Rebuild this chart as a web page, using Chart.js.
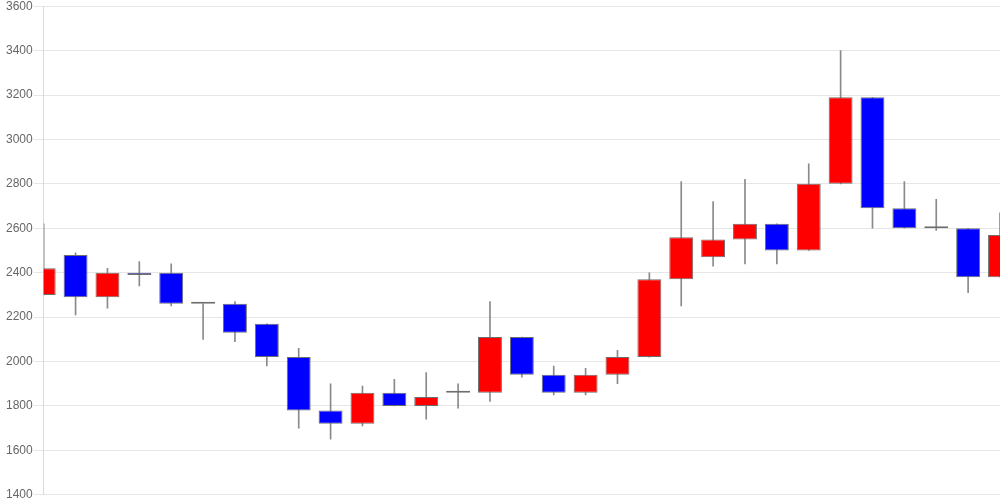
<!DOCTYPE html>
<html>
<head>
<meta charset="utf-8">
<script src="https://cdn.jsdelivr.net/npm/chart.js@4/dist/chart.umd.min.js"></script>
<style>
    html, body { margin: 0; padding: 0; background: #fff; overflow: hidden; }
    #wrap { position: absolute; left: 0; top: -2px; width: 1000px; height: 505px; }
</style>
</head>
<body>
<div id="wrap"><canvas id="candles"></canvas></div>
<script>
// ─── PRICE DATA ──────────────────────────────────────────────
const days   = Array.from({ length: 31 }, (_, i) => 'D' + (i + 1));
const opens  = [2300, 2480, 2290, 2400, 2400, 2260, 2260, 2170, 2020, 1780, 1720, 1860, 1800, 1860, 1860, 2110,
                1940, 1860, 1940, 2020, 2370, 2470, 2550, 2620, 2500, 2800, 3190, 2690, 2600, 2600, 2380];
const closes = [2420, 2290, 2400, 2390, 2260, 2260, 2130, 2020, 1780, 1720, 1860, 1800, 1840, 1860, 2110, 1940,
                1860, 1940, 2020, 2370, 2560, 2550, 2620, 2500, 2800, 3190, 2690, 2600, 2600, 2380, 2570];
const highs  = [2620, 2490, 2420, 2450, 2440, 2260, 2270, 2170, 2060, 1900, 1890, 1920, 1950, 1900, 2270, 2110,
                1980, 1970, 2050, 2400, 2810, 2720, 2820, 2620, 2890, 3400, 3190, 2810, 2730, 2600, 2670];
const lows   = [2300, 2210, 2240, 2340, 2250, 2100, 2090, 1980, 1700, 1650, 1710, 1800, 1740, 1790, 1820, 1930,
                1850, 1850, 1900, 2020, 2250, 2430, 2440, 2440, 2500, 2800, 2600, 2600, 2590, 2310, 2380];
const yTicks = [1400, 1600, 1800, 2000, 2200, 2400, 2600, 2800, 3000, 3200, 3400, 3600];

// ─── COLOURS ─────────────────────────────────────────────────
const UP = '#ff0000', DOWN = '#0000ff', FLAT = '#777777';
const bodyColor = ctx => {
    const i = ctx.dataIndex;
    return closes[i] > opens[i] ? UP : closes[i] < opens[i] ? DOWN : FLAT;
};

// ─── CHART ───────────────────────────────────────────────────
new Chart(document.getElementById('candles'), {
    type: 'bar',
    data: {
        labels: days,
        datasets: [
            {
                label: 'body',
                data: opens.map((o, i) => [o, closes[i]]),
                backgroundColor: bodyColor,
                borderColor: '#6e6e6e',
                borderWidth: 1,
                borderSkipped: false,
                grouped: false,
                categoryPercentage: 1,
                barPercentage: 0.75,
                minBarLength: 2
            },
            {
                label: 'wick',
                data: lows.map((l, i) => [l, highs[i]]),
                backgroundColor: '#8a8a8a',
                borderWidth: 0,
                grouped: false,
                barThickness: 1
            }
        ]
    },
    options: {
        responsive: true,
        maintainAspectRatio: false,
        animation: false,
        layout: { padding: { left: 5, right: 0, top: 0, bottom: 0 } },
        plugins: { legend: { display: false }, tooltip: { enabled: false } },
        scales: {
            x: {
                offset: false,
                display: false
            },
            y: {
                min: yTicks[0],
                max: yTicks[yTicks.length - 1],
                afterBuildTicks: axis => { axis.ticks = yTicks.map(v => ({ value: v })); },
                ticks: {
                    color: '#666',
                    padding: 1,
                    font: { family: 'Liberation Sans, Arial', size: 12 },
                    callback: v => String(v)
                },
                grid: { color: '#e6e6e6', tickLength: 10 },
                border: { color: '#d9d9d9' }
            }
        }
    }
});
</script>
</body>
</html>
